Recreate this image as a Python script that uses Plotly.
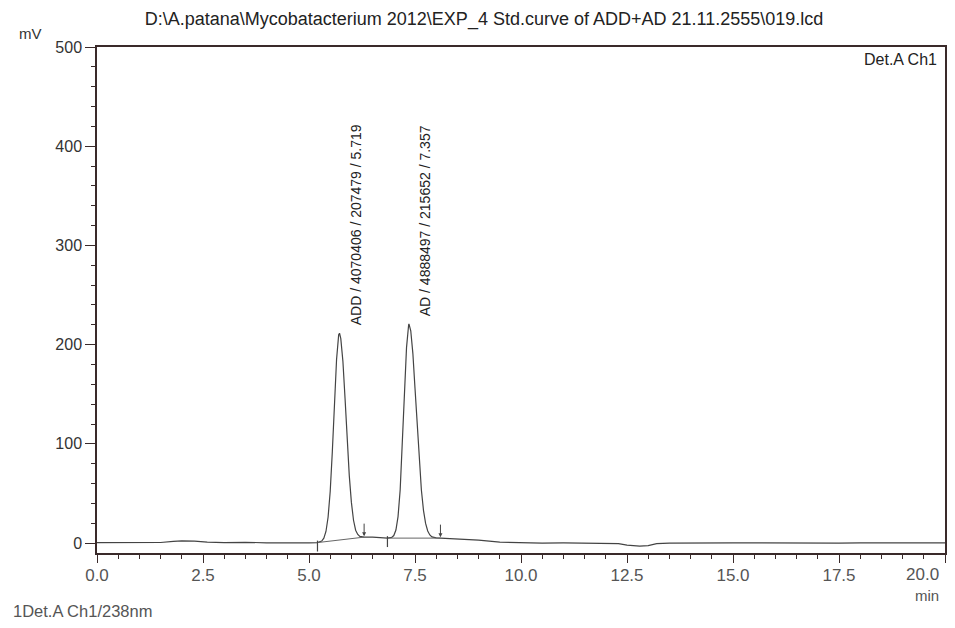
import plotly.graph_objects as go

# ---- data ----
time_min = [0.0, 0.5, 1.0, 1.5, 1.8, 2.0, 2.3, 2.6, 3.0, 3.5, 4.0, 4.5, 5.0, 5.2,
            5.30, 5.35, 5.40, 5.45, 5.50, 5.55, 5.60, 5.65, 5.70, 5.72, 5.75, 5.80,
            5.85, 5.90, 5.95, 6.00, 6.05, 6.10, 6.15, 6.20, 6.25, 6.30,
            6.5, 6.7, 6.85,
            6.95, 7.00, 7.05, 7.10, 7.15, 7.20, 7.25, 7.30, 7.35, 7.357, 7.40, 7.45,
            7.50, 7.55, 7.60, 7.65, 7.70, 7.75, 7.80, 7.85, 7.90, 7.95, 8.00, 8.10,
            8.3, 8.6, 9.0, 9.5, 10.0, 10.5, 11.0, 11.5, 12.0, 12.3, 12.5, 12.8, 13.0,
            13.2, 13.5, 14.0, 14.5, 15.0, 15.5, 16.0, 16.5, 17.0, 17.5, 18.0, 18.5,
            19.0, 19.5, 20.0]
signal_mV = [0.5, 0.3, 0.2, 0.6, 1.8, 2.2, 2.0, 1.0, 0.5, 0.8, 0.2, 0.0, 0.3, 0.5,
             2.1, 5.0, 11.7, 26.0, 52.0, 92.0, 140.0, 185.0, 210.0, 211.5, 206.0, 183.0,
             146.0, 105.0, 68.0, 41.0, 23.0, 13.0, 8.7, 6.7, 6.1, 6.0,
             6.0, 5.5, 5.0,
             5.7, 7.6, 13.2, 26.7, 53.5, 96.3, 149.5, 197.0, 220.0, 221.0, 214.0, 191.0,
             156.0, 118.0, 82.5, 53.7, 33.0, 19.8, 12.2, 8.2, 6.3, 5.5, 5.3, 5.0,
             4.5, 4.0, 3.0, 1.0, 0.3, 0.0, 0.2, 0.0, 0.3, -0.5, -2.0, -3.0, -2.5,
             -0.5, 0.0, 0.3, 0.0, 0.3, 0.2, 0.0, 0.2, 0.3, 0.0, 0.2, 0.1,
             0.3, 0.0, 0.2]

# integration events (peak start / end) and baseline level there
event_start_min = [5.2, 6.85]
event_start_mV = [0.5, 5.0]
event_end_min = [6.3, 8.1]
event_end_mV = [6.0, 5.0]

# peaks
peak_names = ["ADD", "AD"]
peak_area = [4070406, 4888497]
peak_height = [207479, 215652]
peak_rt = [5.719, 7.357]
peak_top_mV = [211.5, 221.0]

x_ticks = [0.0, 2.5, 5.0, 7.5, 10.0, 12.5, 15.0, 17.5, 20.0]
y_ticks = [0, 100, 200, 300, 400, 500]

INK = "#444444"
AX = "#3a2a2a"
SANS = "Liberation Sans, Arial, sans-serif"

fig = go.Figure()

fig.add_trace(go.Scatter(x=time_min, y=signal_mV, mode="lines",
                         line=dict(color=INK, width=1.2), hoverinfo="skip",
                         showlegend=False))

# integration baselines
for i in range(len(event_start_min)):
    fig.add_trace(go.Scatter(x=[event_start_min[i], event_end_min[i]],
                             y=[event_start_mV[i], event_end_mV[i]], mode="lines",
                             line=dict(color="#666666", width=1), showlegend=False,
                             hoverinfo="skip"))

# start markers (short vertical ticks downward)
for t, v in zip(event_start_min, event_start_mV):
    fig.add_trace(go.Scatter(x=[t, t], y=[v + 2, v - 9], mode="lines",
                             line=dict(color=INK, width=1.2), showlegend=False,
                             hoverinfo="skip"))

# end markers (small arrows)
for t, v in zip(event_end_min, event_end_mV):
    fig.add_annotation(x=t, y=v + 1, ax=0, ay=-14, xref="x", yref="y",
                       showarrow=True, arrowhead=2, arrowsize=0.8, arrowwidth=1,
                       arrowcolor=INK, text="")

# peak labels
for name, a, h, rt, top in zip(peak_names, peak_area, peak_height, peak_rt, peak_top_mV):
    fig.add_annotation(x=rt, y=top, xref="x", yref="y",
                       text=f"{name} / {a} / {h} / {rt:.3f}",
                       textangle=-90, showarrow=False, xanchor="center",
                       yanchor="bottom", xshift=16, yshift=6,
                       font=dict(family=SANS, size=14, color="#222222"))

# figure is offset by the page's 8px body margin; size/margins compensate
fig.update_layout(
    width=947, height=620,
    margin=dict(l=89, r=8, t=39, b=75),
    paper_bgcolor="white", plot_bgcolor="white",
    showlegend=False,
    title=dict(text="D:\\A.patana\\Mycobatacterium 2012\\EXP_4 Std.curve of ADD+AD 21.11.2555\\019.lcd",
               x=(484 - 8) / 947, xanchor="center", y=1 - 4 / 620, yanchor="top",
               font=dict(family=SANS, size=18, color="#222222")),
)

fig.update_xaxes(range=[0, 20], tickvals=x_ticks,
                 ticktext=[f"{v:.1f}" if v < 20 else "" for v in x_ticks],
                 showgrid=False, zeroline=False, showline=True, linecolor=AX,
                 linewidth=1.5, mirror=True, ticks="outside", ticklen=8, tickwidth=1.2,
                 tickcolor=AX, ticklabelstandoff=-2,
                 minor=dict(dtick=0.5, ticks="outside", ticklen=4, tickwidth=1.2,
                            tickcolor=AX, showgrid=False),
                 tickfont=dict(family=SANS, size=17, color="#555555"))
fig.update_yaxes(range=[-10, 500], tickvals=y_ticks,
                 showgrid=False, zeroline=False, showline=True, linecolor=AX,
                 linewidth=1.5, mirror=True, ticks="outside", ticklen=10, tickwidth=1.2,
                 tickcolor=AX,
                 minor=dict(dtick=20, ticks="outside", ticklen=4, tickwidth=1.2,
                            tickcolor=AX, showgrid=False),
                 tickfont=dict(family=SANS, size=16, color="#333333"))

# last x tick label kept inside the page, as in the original
fig.add_annotation(text=f"{x_ticks[-1]:.1f}", xref="x", yref="paper", x=x_ticks[-1], y=0.0,
                   xanchor="right", yanchor="top", xshift=-4, yshift=-10, showarrow=False,
                   font=dict(family=SANS, size=17, color="#555555"))
fig.add_annotation(text="mV", xref="paper", yref="paper", x=-67 / 850, y=1.0,
                   xanchor="center", yanchor="bottom", yshift=3, showarrow=False,
                   font=dict(family=SANS, size=15, color="#333333"))
fig.add_annotation(text="Det.A Ch1", xref="paper", yref="paper", x=1.0, y=1.0,
                   xanchor="right", yanchor="top", xshift=-6, yshift=-2, showarrow=False,
                   font=dict(family=SANS, size=16, color="#222222"))
fig.add_annotation(text="min", xref="paper", yref="paper", x=1.0, y=0.0,
                   xanchor="right", yanchor="top", xshift=-4, yshift=-32, showarrow=False,
                   font=dict(family=SANS, size=15, color="#555555"))
fig.add_annotation(text="1Det.A Ch1/238nm", xref="paper", yref="paper", x=-86 / 850, y=0.0,
                   xanchor="left", yanchor="top", yshift=-47, showarrow=False,
                   font=dict(family=SANS, size=16.5, color="#555555"))

fig.write_html("out.html")
